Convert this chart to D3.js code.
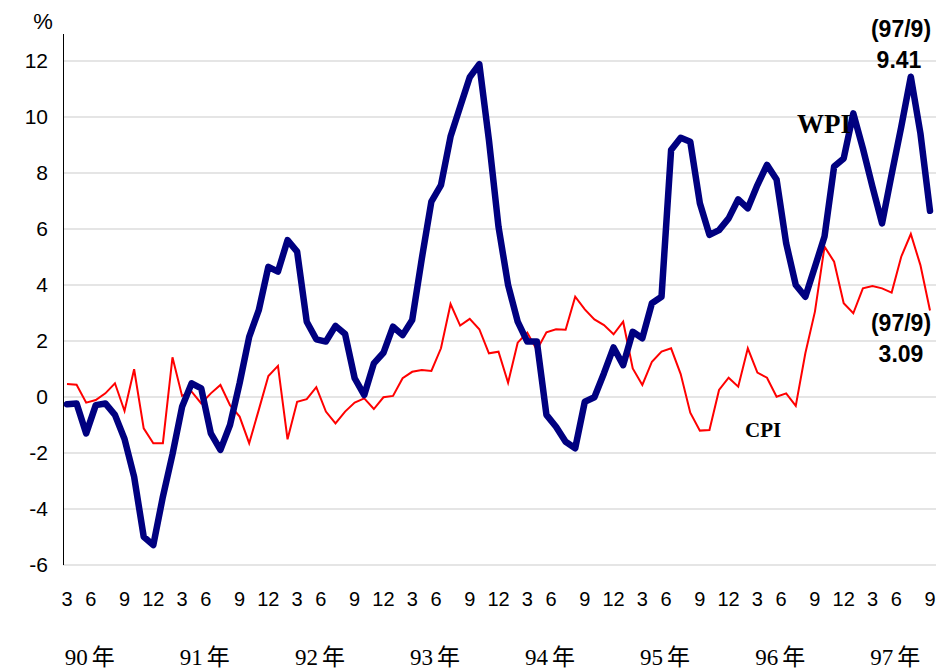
<!DOCTYPE html>
<html>
<head>
<meta charset="utf-8">
<script src="https://cdn.jsdelivr.net/npm/d3@7"></script>
<style>
  body { margin: 0; background: #fff; }
  svg { display: block; }
</style>
</head>
<body>
<svg id="chart" width="940" height="671"></svg>
<script>
// Monthly series from 90/3 to 97/9 (ROC years)
const startYear = 90, startMonth = 3;
const wpi = [
  -0.26, -0.23, -1.30, -0.29, -0.23, -0.64, -1.50, -2.85, -4.99, -5.29,
  -3.56, -2.05, -0.35, 0.49, 0.31, -1.30, -1.89, -1.00, 0.49, 2.15,
  3.10, 4.65, 4.48, 5.60, 5.19, 2.69, 2.06, 1.98, 2.54, 2.25,
  0.67, 0.07, 1.20, 1.58, 2.51, 2.21, 2.75, 4.94, 6.98, 7.57,
  9.30, 10.37, 11.42, 11.89, 9.18, 6.08, 4.00, 2.69, 1.98, 1.98,
  -0.64, -1.06, -1.60, -1.83, -0.17, -0.01, 0.85, 1.77, 1.14, 2.33,
  2.10, 3.35, 3.58, 8.82, 9.26, 9.12, 6.92, 5.79, 5.96, 6.38,
  7.06, 6.74, 7.57, 8.29, 7.77, 5.49, 4.00, 3.58, 4.65, 5.73,
  8.23, 8.52, 10.13, 8.88, 7.51, 6.20, 7.95, 9.65, 11.44, 9.42,
  6.65
];
const cpi = [
  0.46, 0.44, -0.20, -0.11, 0.13, 0.49, -0.50, 0.99, -1.12, -1.65,
  -1.65, 1.42, 0.04, 0.19, -0.23, 0.13, 0.43, -0.29, -0.70, -1.65,
  -0.46, 0.75, 1.11, -1.51, -0.17, -0.08, 0.35, -0.52, -0.94, -0.52,
  -0.20, -0.05, -0.43, -0.01, 0.04, 0.67, 0.90, 0.96, 0.93, 1.74,
  3.32, 2.55, 2.79, 2.42, 1.56, 1.62, 0.51, 1.94, 2.30, 1.68,
  2.31, 2.42, 2.40, 3.58, 3.13, 2.77, 2.57, 2.24, 2.69, 1.02,
  0.43, 1.26, 1.62, 1.74, 0.82, -0.56, -1.20, -1.18, 0.25, 0.69,
  0.37, 1.74, 0.87, 0.69, 0.01, 0.13, -0.32, 1.56, 3.05, 5.37,
  4.83, 3.35, 2.99, 3.88, 3.96, 3.88, 3.73, 5.01, 5.82, 4.71,
  3.09
];
const yTicks = [-6, -4, -2, 0, 2, 4, 6, 8, 10, 12];
const monthTickLabels = [3, 6, 9, 12];
const yearLabels = ["90年", "91年", "92年", "93年", "94年", "95年", "96年", "97年"];
const seriesNames = ["WPI", "CPI"];
const endNote = "(97/9)";
const wpiNote = "9.41";
const cpiNote = "3.09";

const svg = d3.select("#chart");
const n = wpi.length;
const x = d3.scaleLinear().domain([0, n - 1]).range([67, 930]);
const y = d3.scaleLinear().domain([-6, 12]).range([565, 61]);

function monthOf(i) { return ((startMonth - 1 + i) % 12) + 1; }
function yearOf(i) { return startYear + Math.floor((startMonth - 1 + i) / 12); }

// gridlines
svg.append("g").selectAll("line").data(yTicks).join("line")
  .attr("x1", 63).attr("x2", 936)
  .attr("y1", d => y(d)).attr("y2", d => y(d))
  .attr("stroke", "#cccccc").attr("stroke-width", 1.2);

// y axis
const yAxis = d3.axisLeft(y).tickValues(yTicks).tickSize(0).tickPadding(15)
  .tickFormat(d => d < 0 ? "-" + Math.abs(d) : String(d));
const gy = svg.append("g").attr("transform", "translate(63,0)").call(yAxis);
gy.select(".domain").remove();
gy.selectAll("text").attr("font-family", "Liberation Sans, Arial, sans-serif")
  .attr("font-size", 21).attr("fill", "#000");
svg.append("line").attr("x1", 63.5).attr("x2", 63.5).attr("y1", 34).attr("y2", 565)
  .attr("stroke", "#000").attr("stroke-width", 1);
svg.append("text").attr("x", 43).attr("y", 29).attr("text-anchor", "middle")
  .attr("font-family", "Liberation Sans, Arial, sans-serif").attr("font-size", 22)
  .text("%");

// month tick labels
const idx = d3.range(n);
const monthIdx = idx.filter(i => monthTickLabels.includes(monthOf(i)));
svg.append("g").selectAll("text").data(monthIdx).join("text")
  .attr("x", i => x(i) + (monthOf(i) === 6 ? -5 : 0))
  .attr("y", 606)
  .attr("text-anchor", "middle")
  .attr("font-family", "Liberation Sans Narrow, Liberation Sans, Arial, sans-serif")
  .attr("font-size", 20)
  .text(i => monthOf(i));

// year labels, centred near June of each year
const yearIdx = idx.filter(i => monthOf(i) === 6);
const yearText = svg.append("g").selectAll("text").data(yearIdx).join("text")
  .attr("x", i => x(i) - 6)
  .attr("y", 665)
  .attr("text-anchor", "middle")
  .attr("font-family", "Liberation Serif, Times New Roman, Noto Sans CJK TC, serif")
  .attr("font-size", 23);
yearText.append("tspan").text(i => yearLabels[yearOf(i) - startYear].slice(0, -1));
yearText.append("tspan").attr("dx", 4).text(i => yearLabels[yearOf(i) - startYear].slice(-1));

// lines
const line = d3.line().x((d, i) => x(i)).y(d => y(d));
svg.append("path").datum(cpi).attr("d", line)
  .attr("fill", "none").attr("stroke", "#ff0000").attr("stroke-width", 2)
  .attr("stroke-linejoin", "miter");
svg.append("path").datum(wpi).attr("d", line)
  .attr("fill", "none").attr("stroke", "#000080").attr("stroke-width", 6.5)
  .attr("stroke-linejoin", "round").attr("stroke-linecap", "round");

// series labels
svg.append("text").attr("x", 797).attr("y", 133)
  .attr("font-family", "Liberation Serif, Times New Roman, serif")
  .attr("font-weight", "bold").attr("font-size", 27).text(seriesNames[0]);
svg.append("text").attr("x", 745).attr("y", 437)
  .attr("font-family", "Liberation Serif, Times New Roman, serif")
  .attr("font-weight", "bold").attr("font-size", 21).text(seriesNames[1]);

// end annotations
const noteFont = "Liberation Sans, Arial, sans-serif";
svg.append("text").attr("x", 901).attr("y", 37).attr("text-anchor", "middle")
  .attr("font-family", noteFont).attr("font-weight", "bold").attr("font-size", 23).text(endNote);
svg.append("text").attr("x", 899).attr("y", 68).attr("text-anchor", "middle")
  .attr("font-family", noteFont).attr("font-weight", "bold").attr("font-size", 23).text(wpiNote);
svg.append("text").attr("x", 901).attr("y", 331).attr("text-anchor", "middle")
  .attr("font-family", noteFont).attr("font-weight", "bold").attr("font-size", 23).text(endNote);
svg.append("text").attr("x", 901).attr("y", 362).attr("text-anchor", "middle")
  .attr("font-family", noteFont).attr("font-weight", "bold").attr("font-size", 23).text(cpiNote);
</script>
</body>
</html>
